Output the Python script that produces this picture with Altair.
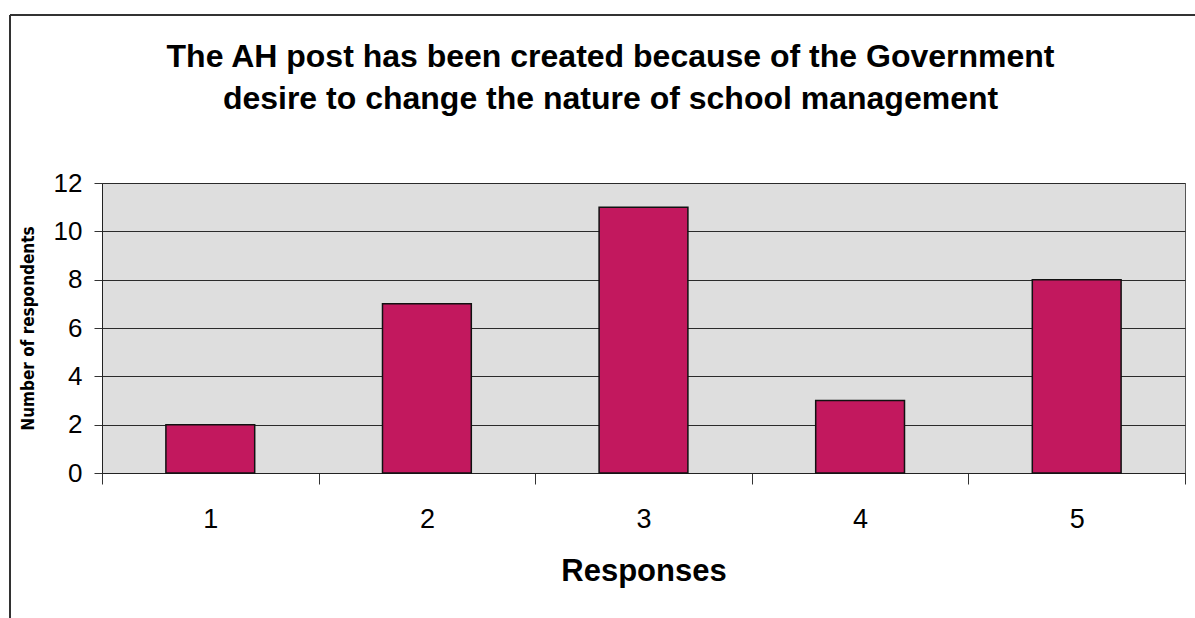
import altair as alt
import pandas as pd

responses = ["1", "2", "3", "4", "5"]
counts = [2, 7, 11, 3, 8]
title_lines = ["The AH post has been created because of the Government",
               "desire to change the nature of school management"]

df = pd.DataFrame({"Responses": responses, "Count": counts})

FONT = "Liberation Sans"

bars = alt.Chart(df).mark_bar(
    color="#c2185e", stroke="#111111", strokeWidth=1.5,
    width=alt.RelativeBandSize(0.41)
).encode(
    x=alt.X("Responses:N", sort=responses,
            scale=alt.Scale(paddingInner=0, paddingOuter=0),
            axis=alt.Axis(title="Responses", labelAngle=0, tickBand="extent",
                          ticks=True, tickSize=11, tickColor="#333333",
                          domainColor="#222222", labelFontSize=27,
                          labelFont=FONT, labelColor="#000000", labelPadding=22,
                          titleFont=FONT, titleFontSize=31, titleFontWeight="bold",
                          titleColor="#000000", titlePadding=24, grid=False)),
    y=alt.Y("Count:Q", scale=alt.Scale(domain=[0, 12]),
            axis=alt.Axis(title="Number of respondents", values=[0, 2, 4, 6, 8, 10, 12],
                          tickSize=8, tickColor="#333333", domainColor="#222222",
                          labelFontSize=26, labelFont=FONT, labelColor="#000000",
                          labelPadding=12, grid=True, gridColor="#2a2a2a",
                          gridWidth=1, gridOpacity=1,
                          titleFont="DejaVu Sans Condensed", titleFontSize=17,
                          titleFontWeight="bold", titleColor="#000000",
                          titleAngle=-90, titleX=-74, titleY=145,
                          titleBaseline="middle", titleAlign="center")),
)

frame_top = alt.Chart(df).mark_rule(color="#333333", strokeWidth=1.5).encode(
    x=alt.value(-92), x2=alt.value(1100), y=alt.value(-168)
)
frame_left = alt.Chart(df).mark_rule(color="#333333", strokeWidth=1.5).encode(
    x=alt.value(-92), y=alt.value(-168), y2=alt.value(450)
)

chart = alt.layer(bars, frame_top, frame_left).properties(
    width=1083, height=290,
    padding={"left": 102, "top": 183, "right": 10, "bottom": 145},
    autosize=alt.AutoSizeParams(type="none"),
    background="#ffffff",
    title=alt.TitleParams(title_lines, font=FONT, fontSize=32, fontWeight="bold",
                          color="#000000", anchor="middle", dx=-33, dy=102,
                          lineHeight=42, offset=0, baseline="top"),
).configure_view(
    fill="#dedede", stroke="#555555", strokeWidth=1
)

chart.save("out.html", embed_options={"renderer": "svg", "actions": False})
